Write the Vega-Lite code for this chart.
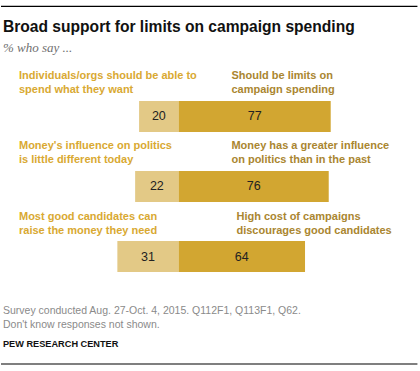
{
  "$schema": "https://vega.github.io/schema/vega-lite/v6.json",
  "width": 420,
  "height": 371,
  "padding": 0,
  "autosize": {"type": "fit", "contains": "padding"},
  "background": "#ffffff",
  "config": {"view": {"stroke": null}},
  "datasets": {
    "items": [
      {"q": 1, "side": "left", "pct": 20, "label": "Individuals/orgs should be able to\nspend what they want"},
      {"q": 1, "side": "right", "pct": 77, "label": "Should be limits on\ncampaign spending"},
      {"q": 2, "side": "left", "pct": 22, "label": "Money's influence on politics\nis little different today"},
      {"q": 2, "side": "right", "pct": 76, "label": "Money has a greater influence\non politics than in the past"},
      {"q": 3, "side": "left", "pct": 31, "label": "Most good candidates can\nraise the money they need"},
      {"q": 3, "side": "right", "pct": 64, "label": "High cost of campaigns\ndiscourages good candidates"}
    ]
  },
  "resolve": {"scale": {"x": "independent"}},
  "layer": [
    {
      "data": {"values": [{}]},
      "mark": {"type": "rule", "stroke": "#000000", "strokeWidth": 1.2},
      "encoding": {
        "x": {"datum": -89.9, "type": "quantitative", "scale": {"domain": [-89.9, 122.2], "nice": false, "zero": false}, "axis": null},
        "x2": {"datum": 120.9},
        "y": {"datum": -0.57, "type": "quantitative", "scale": {"domain": [-0.5903, 4.5625], "reverse": true, "nice": false, "zero": false}, "axis": null}
      }
    },
    {
      "data": {"values": [{}]},
      "mark": {"type": "rule", "stroke": "#000000", "strokeWidth": 1.2},
      "encoding": {
        "x": {"datum": -89.9, "type": "quantitative", "scale": {"domain": [-89.9, 122.2], "nice": false, "zero": false}, "axis": null},
        "x2": {"datum": 120.9},
        "y": {"datum": 4.534, "type": "quantitative", "scale": {"domain": [-0.5903, 4.5625], "reverse": true, "nice": false, "zero": false}, "axis": null}
      }
    },
    {
      "data": {"values": [{}]},
      "mark": {"type": "text", "text": "Broad support for limits on campaign spending", "font": "Liberation Sans", "fontWeight": "bold", "fontSize": 15.6, "fill": "#111111", "align": "left", "baseline": "alphabetic"},
      "encoding": {
        "x": {"datum": -88.9, "type": "quantitative", "scale": {"domain": [-89.9, 122.2], "nice": false, "zero": false}, "axis": null},
        "y": {"datum": -0.2014, "type": "quantitative", "scale": {"domain": [-0.5903, 4.5625], "reverse": true, "nice": false, "zero": false}, "axis": null}
      }
    },
    {
      "data": {"values": [{}]},
      "mark": {"type": "text", "text": "% who say ...", "font": "Liberation Serif", "fontStyle": "italic", "fontSize": 13, "fill": "#707070", "align": "left", "baseline": "alphabetic"},
      "encoding": {
        "x": {"datum": -88.9, "type": "quantitative", "scale": {"domain": [-89.9, 122.2], "nice": false, "zero": false}, "axis": null},
        "y": {"datum": 0.0764, "type": "quantitative", "scale": {"domain": [-0.5903, 4.5625], "reverse": true, "nice": false, "zero": false}, "axis": null}
      }
    },
    {
      "data": {"name": "items"},
      "transform": [{"filter": "datum.side == 'left'"}],
      "mark": {"type": "bar", "orient": "horizontal", "size": 31, "fill": "#e3c986"},
      "encoding": {
        "x": {"field": "pct", "type": "quantitative", "scale": {"domain": [-122.2, 89.9], "reverse": true, "nice": false, "zero": false}, "axis": null},
        "x2": {"datum": 0},
        "y": {"field": "q", "type": "quantitative", "scale": {"domain": [-0.5903, 4.5625], "reverse": true, "nice": false, "zero": false}, "axis": null}
      }
    },
    {
      "data": {"name": "items"},
      "transform": [{"filter": "datum.side == 'right'"}],
      "mark": {"type": "bar", "orient": "horizontal", "size": 31, "fill": "#d2a631"},
      "encoding": {
        "x": {"field": "pct", "type": "quantitative", "scale": {"domain": [-89.9, 122.2], "nice": false, "zero": false}, "axis": null},
        "x2": {"datum": 0},
        "y": {"field": "q", "type": "quantitative", "scale": {"domain": [-0.5903, 4.5625], "reverse": true, "nice": false, "zero": false}, "axis": null}
      }
    },
    {
      "data": {"name": "items"},
      "transform": [{"filter": "datum.side == 'left'"}],
      "mark": {"type": "text", "font": "Liberation Sans", "fontSize": 12.5, "fill": "#222222", "align": "center", "baseline": "middle"},
      "encoding": {
        "x": {"field": "pct", "type": "quantitative", "scale": {"domain": [-244.4, 179.8], "reverse": true, "nice": false, "zero": false}, "axis": null},
        "y": {"field": "q", "type": "quantitative", "scale": {"domain": [-0.5903, 4.5625], "reverse": true, "nice": false, "zero": false}, "axis": null},
        "text": {"field": "pct", "type": "quantitative"}
      }
    },
    {
      "data": {"name": "items"},
      "transform": [{"filter": "datum.side == 'right'"}],
      "mark": {"type": "text", "font": "Liberation Sans", "fontSize": 12.5, "fill": "#222222", "align": "center", "baseline": "middle"},
      "encoding": {
        "x": {"field": "pct", "type": "quantitative", "scale": {"domain": [-179.8, 244.4], "nice": false, "zero": false}, "axis": null},
        "y": {"field": "q", "type": "quantitative", "scale": {"domain": [-0.5903, 4.5625], "reverse": true, "nice": false, "zero": false}, "axis": null},
        "text": {"field": "pct", "type": "quantitative"}
      }
    },
    {
      "data": {"name": "items"},
      "transform": [{"filter": "datum.side == 'left'"}],
      "mark": {"type": "text", "font": "Liberation Sans", "fontWeight": "bold", "fontSize": 11, "fill": "#d9a932", "align": "left", "baseline": "alphabetic", "lineBreak": "\n", "lineHeight": 14, "dy": -37},
      "encoding": {
        "x": {"datum": -80.8, "type": "quantitative", "scale": {"domain": [-89.9, 122.2], "nice": false, "zero": false}, "axis": null},
        "y": {"field": "q", "type": "quantitative", "scale": {"domain": [-0.5903, 4.5625], "reverse": true, "nice": false, "zero": false}, "axis": null},
        "text": {"field": "label", "type": "nominal"}
      }
    },
    {
      "data": {"name": "items"},
      "transform": [{"filter": "datum.side == 'right' && datum.q < 3"}],
      "mark": {"type": "text", "font": "Liberation Sans", "fontWeight": "bold", "fontSize": 11, "fill": "#aa8630", "align": "left", "baseline": "alphabetic", "lineBreak": "\n", "lineHeight": 14, "dy": -37},
      "encoding": {
        "x": {"datum": 26.75, "type": "quantitative", "scale": {"domain": [-89.9, 122.2], "nice": false, "zero": false}, "axis": null},
        "y": {"field": "q", "type": "quantitative", "scale": {"domain": [-0.5903, 4.5625], "reverse": true, "nice": false, "zero": false}, "axis": null},
        "text": {"field": "label", "type": "nominal"}
      }
    },
    {
      "data": {"name": "items"},
      "transform": [{"filter": "datum.side == 'right' && datum.q == 3"}],
      "mark": {"type": "text", "font": "Liberation Sans", "fontWeight": "bold", "fontSize": 11, "fill": "#aa8630", "align": "left", "baseline": "alphabetic", "lineBreak": "\n", "lineHeight": 14, "dy": -37},
      "encoding": {
        "x": {"datum": 29.3, "type": "quantitative", "scale": {"domain": [-89.9, 122.2], "nice": false, "zero": false}, "axis": null},
        "y": {"field": "q", "type": "quantitative", "scale": {"domain": [-0.5903, 4.5625], "reverse": true, "nice": false, "zero": false}, "axis": null},
        "text": {"field": "label", "type": "nominal"}
      }
    },
    {
      "data": {"values": [{}]},
      "mark": {"type": "text", "text": ["Survey conducted Aug. 27-Oct. 4, 2015. Q112F1, Q113F1, Q62.", "Don't know responses not shown."], "font": "Liberation Sans", "fontSize": 10.5, "fill": "#8a8a8a", "align": "left", "baseline": "alphabetic", "lineHeight": 14},
      "encoding": {
        "x": {"datum": -88.9, "type": "quantitative", "scale": {"domain": [-89.9, 122.2], "nice": false, "zero": false}, "axis": null},
        "y": {"datum": 3.8264, "type": "quantitative", "scale": {"domain": [-0.5903, 4.5625], "reverse": true, "nice": false, "zero": false}, "axis": null}
      }
    },
    {
      "data": {"values": [{}]},
      "mark": {"type": "text", "text": "PEW RESEARCH CENTER", "font": "Liberation Sans", "fontWeight": "bold", "fontSize": 9.2, "fill": "#111111", "align": "left", "baseline": "alphabetic"},
      "encoding": {
        "x": {"datum": -88.9, "type": "quantitative", "scale": {"domain": [-89.9, 122.2], "nice": false, "zero": false}, "axis": null},
        "y": {"datum": 4.2915, "type": "quantitative", "scale": {"domain": [-0.5903, 4.5625], "reverse": true, "nice": false, "zero": false}, "axis": null}
      }
    }
  ]
}
